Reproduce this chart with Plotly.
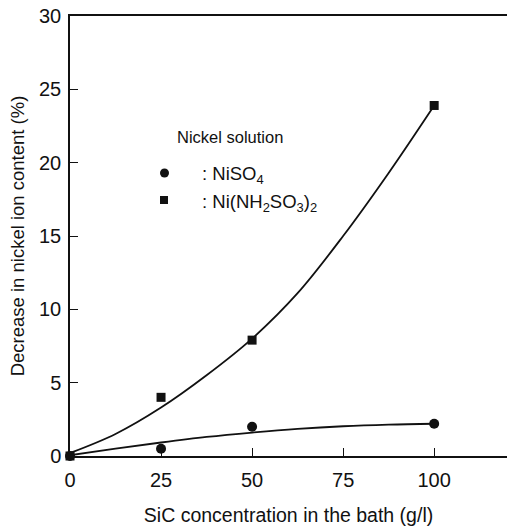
import plotly.graph_objects as go

# Measured points: SiC concentration in the bath (g/l) vs decrease in nickel ion content (%)
sic_conc = [0, 25, 50, 100]
niso4_decrease = [0.0, 0.5, 2.0, 2.2]
sulfamate_decrease = [0.0, 4.0, 7.9, 23.9]

# Hand-drawn trend curves through the measurements
curve_x = [0, 12.5, 25, 37.5, 50, 62.5, 75, 87.5, 100]
niso4_curve = [0.05, 0.5, 0.92, 1.3, 1.6, 1.85, 2.03, 2.14, 2.2]
sulfamate_curve = [0.2, 1.5, 3.3, 5.5, 8.0, 11.1, 15.0, 19.3, 23.9]

x_ticks = [0, 25, 50, 75, 100]
y_ticks = [0, 5, 10, 15, 20, 25, 30]

FONT = "Liberation Sans, Arial, sans-serif"
INK = "#111111"

fig = go.Figure()

for ys in (niso4_curve, sulfamate_curve):
    fig.add_trace(go.Scatter(
        x=curve_x, y=ys, mode="lines",
        line=dict(color=INK, width=1.8, shape="spline", smoothing=1.0),
        showlegend=False, hoverinfo="skip", cliponaxis=False,
    ))

fig.add_trace(go.Scatter(
    x=sic_conc, y=niso4_decrease, mode="markers", name="NiSO4",
    marker=dict(symbol="circle", size=10, color=INK),
    showlegend=False, cliponaxis=False,
))
fig.add_trace(go.Scatter(
    x=sic_conc, y=sulfamate_decrease, mode="markers", name="Ni(NH2SO3)2",
    marker=dict(symbol="square", size=9, color=INK),
    showlegend=False, cliponaxis=False,
))

# Key: title, symbols and labels placed inside the plot area
L, R, T, B, W, H = 70, 0, 16, 70, 507, 526
pw, ph = W - L - R, H - T - B


def px(xp):
    return (xp - L) / pw


def py(yp):
    return (H - B - yp) / ph


fig.add_annotation(x=px(175), y=py(137), xref="paper", yref="paper",
                   text="Nickel solution", showarrow=False,
                   xanchor="left", yanchor="middle",
                   font=dict(family=FONT, size=16.5, color=INK))
fig.add_annotation(x=px(200), y=py(175), xref="paper", yref="paper",
                   text=": NiSO<sub>4</sub>", showarrow=False,
                   xanchor="left", yanchor="middle",
                   font=dict(family=FONT, size=18.5, color=INK))
fig.add_annotation(x=px(200), y=py(203), xref="paper", yref="paper",
                   text=": Ni(NH<sub>2</sub>SO<sub>3</sub>)<sub>2</sub>", showarrow=False,
                   xanchor="left", yanchor="middle",
                   font=dict(family=FONT, size=18.5, color=INK))
fig.add_shape(type="circle", xref="paper", yref="paper",
              x0=px(160), x1=px(169), y0=py(168.5), y1=py(177.5),
              fillcolor=INK, line=dict(width=0))
fig.add_shape(type="rect", xref="paper", yref="paper",
              x0=px(160), x1=px(168), y0=py(196), y1=py(204),
              fillcolor=INK, line=dict(width=0))

fig.update_layout(
    width=W, height=H,
    margin=dict(l=L, r=R, t=T, b=B),
    paper_bgcolor="white", plot_bgcolor="white",
    font=dict(family=FONT, color=INK),
    showlegend=False,
    xaxis=dict(
        range=[0, 120], tickvals=x_ticks, ticktext=[str(v) for v in x_ticks],
        ticks="inside", ticklen=8, tickwidth=1, tickcolor=INK,
        ticklabelstandoff=5,
        showline=True, linecolor=INK, linewidth=1.5, mirror=True,
        showgrid=False, zeroline=False,
        tickfont=dict(family=FONT, size=20, color=INK),
        title=dict(text="SiC concentration in the bath (g/l)", standoff=19,
                   font=dict(family=FONT, size=19.5, color=INK)),
    ),
    yaxis=dict(
        range=[0, 30], tickvals=y_ticks, ticktext=[str(v) for v in y_ticks],
        ticks="inside", ticklen=8, tickwidth=1, tickcolor=INK,
        ticklabelstandoff=3,
        showline=True, linecolor=INK, linewidth=1.5, mirror=False,
        showgrid=False, zeroline=False,
        tickfont=dict(family=FONT, size=20, color=INK),
        title=dict(text="Decrease in nickel ion content (%)", standoff=10,
                   font=dict(family=FONT, size=18.5, color=INK)),
    ),
)

fig.write_html("out.html")
